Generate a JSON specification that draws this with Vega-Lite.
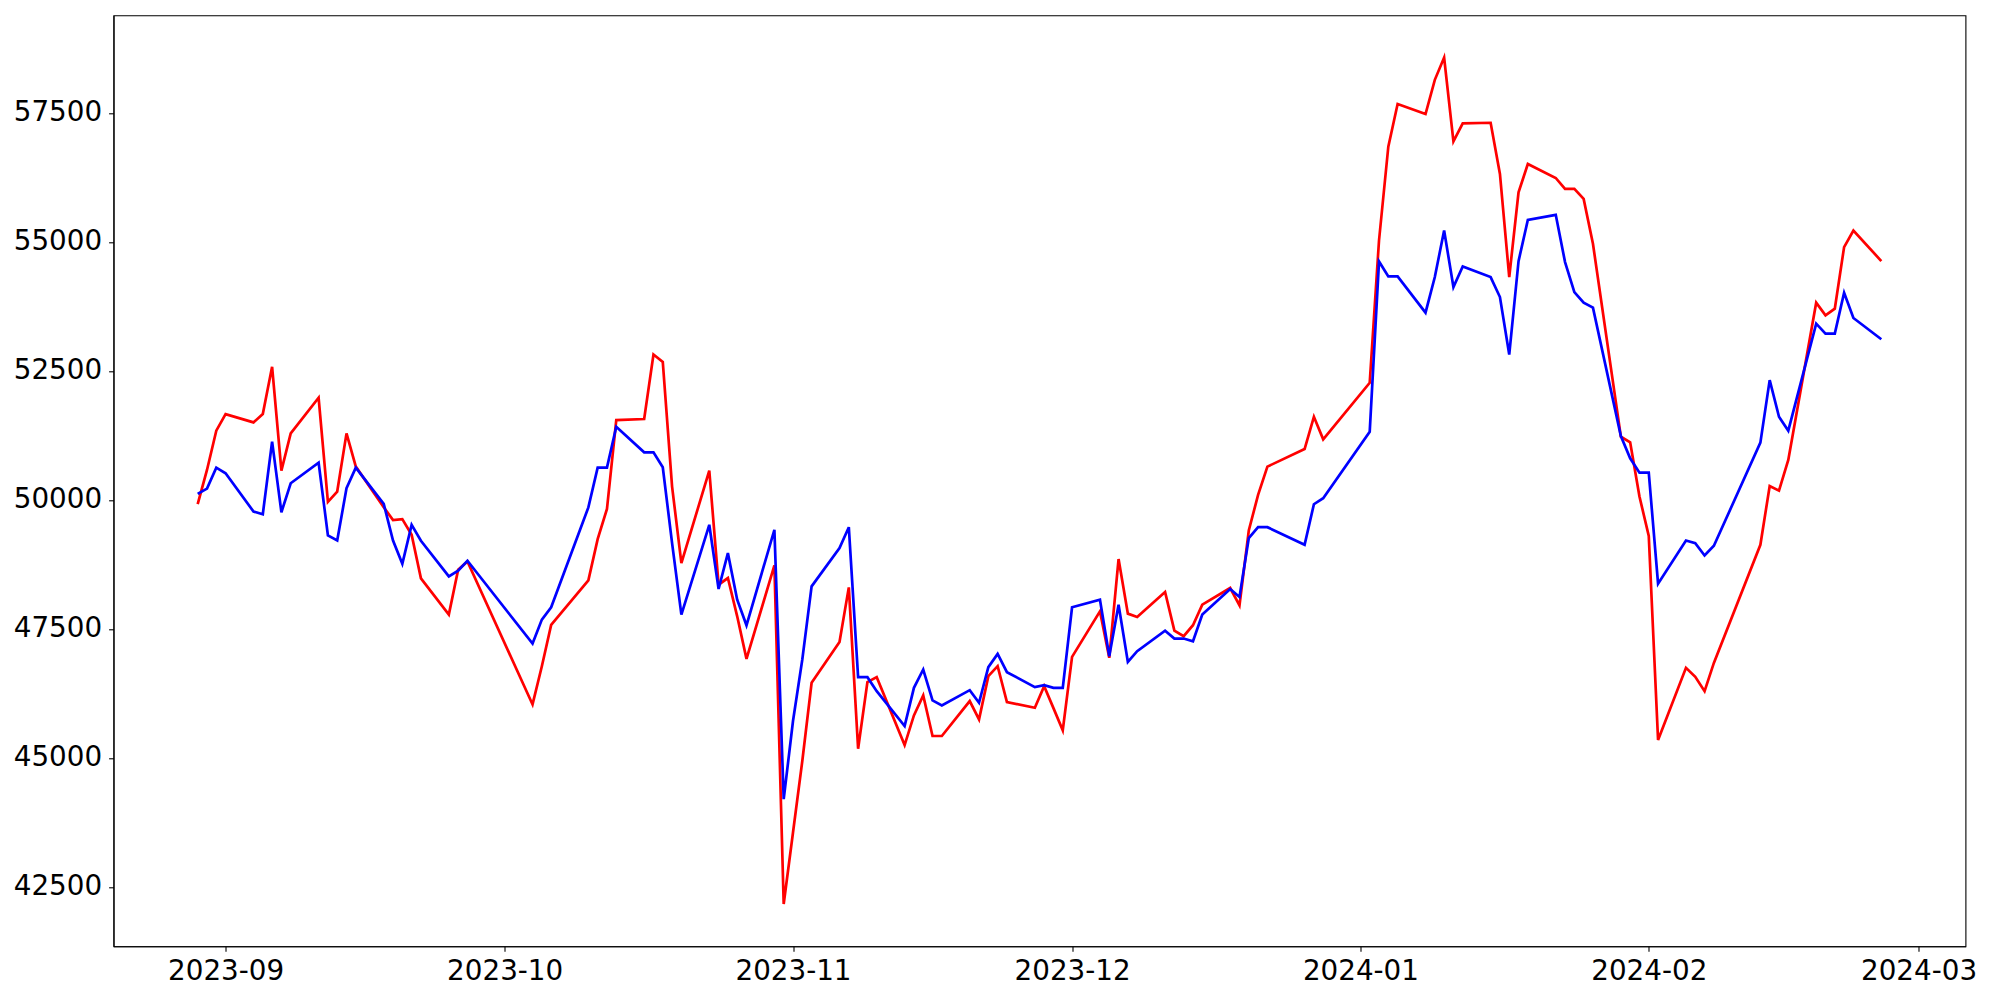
{
  "$schema": "https://vega.github.io/schema/vega-lite/v6.json",
  "width": 1852,
  "height": 931,
  "autosize": {"type": "none"},
  "padding": {"left": 113.5, "top": 15.3, "right": 34.5, "bottom": 53.6},
  "background": "white",
  "config": {
    "view": {"stroke": "black", "strokeWidth": 1.1, "fill": "white"},
    "axis": {
      "labelFont": "DejaVu Sans",
      "labelFontSize": 27.8,
      "labelColor": "black",
      "tickColor": "black",
      "tickSize": 4.9,
      "tickWidth": 1.1,
      "domainColor": "black",
      "domainWidth": 1.1,
      "grid": false,
      "labelPadding": 6,
      "labelFlush": false,
      "labelOverlap": false
    }
  },
  "data": {
    "values": [
      {"date": "2023-08-29", "red": 49916, "blue": 50116},
      {"date": "2023-08-30", "red": 50580, "blue": 50219},
      {"date": "2023-08-31", "red": 51341, "blue": 50625},
      {"date": "2023-09-01", "red": 51663, "blue": 50516},
      {"date": "2023-09-04", "red": 51502, "blue": 49774},
      {"date": "2023-09-05", "red": 51663, "blue": 49723},
      {"date": "2023-09-06", "red": 52579, "blue": 51128},
      {"date": "2023-09-07", "red": 50567, "blue": 49761},
      {"date": "2023-09-08", "red": 51289, "blue": 50322},
      {"date": "2023-09-11", "red": 51979, "blue": 50722},
      {"date": "2023-09-12", "red": 49961, "blue": 49310},
      {"date": "2023-09-13", "red": 50161, "blue": 49213},
      {"date": "2023-09-14", "red": 51289, "blue": 50226},
      {"date": "2023-09-15", "red": 50645, "blue": 50625},
      {"date": "2023-09-18", "red": 49858, "blue": 49923},
      {"date": "2023-09-19", "red": 49607, "blue": 49213},
      {"date": "2023-09-20", "red": 49626, "blue": 48762},
      {"date": "2023-09-21", "red": 49323, "blue": 49516},
      {"date": "2023-09-22", "red": 48479, "blue": 49207},
      {"date": "2023-09-25", "red": 47776, "blue": 48517},
      {"date": "2023-09-26", "red": 48646, "blue": 48627},
      {"date": "2023-09-27", "red": 48807, "blue": 48820},
      {"date": "2023-10-04", "red": 46035, "blue": 47215},
      {"date": "2023-10-05", "red": 46776, "blue": 47679},
      {"date": "2023-10-06", "red": 47576, "blue": 47918},
      {"date": "2023-10-10", "red": 48440, "blue": 49854},
      {"date": "2023-10-11", "red": 49239, "blue": 50625},
      {"date": "2023-10-12", "red": 49826, "blue": 50625},
      {"date": "2023-10-13", "red": 51547, "blue": 51418},
      {"date": "2023-10-16", "red": 51567, "blue": 50922},
      {"date": "2023-10-17", "red": 52817, "blue": 50922},
      {"date": "2023-10-18", "red": 52675, "blue": 50632},
      {"date": "2023-10-19", "red": 50258, "blue": 49162},
      {"date": "2023-10-20", "red": 48775, "blue": 47776},
      {"date": "2023-10-23", "red": 50567, "blue": 49517},
      {"date": "2023-10-24", "red": 48356, "blue": 48272},
      {"date": "2023-10-25", "red": 48485, "blue": 48968},
      {"date": "2023-10-26", "red": 47743, "blue": 48066},
      {"date": "2023-10-27", "red": 46918, "blue": 47569},
      {"date": "2023-10-30", "red": 48730, "blue": 49420},
      {"date": "2023-10-31", "red": 42167, "blue": 44198},
      {"date": "2023-11-01", "red": 43553, "blue": 45713},
      {"date": "2023-11-02", "red": 44939, "blue": 46906},
      {"date": "2023-11-03", "red": 46454, "blue": 48324},
      {"date": "2023-11-06", "red": 47247, "blue": 49065},
      {"date": "2023-11-07", "red": 48304, "blue": 49471},
      {"date": "2023-11-08", "red": 45177, "blue": 46564},
      {"date": "2023-11-09", "red": 46467, "blue": 46564},
      {"date": "2023-11-10", "red": 46564, "blue": 46293},
      {"date": "2023-11-13", "red": 45248, "blue": 45616},
      {"date": "2023-11-14", "red": 45822, "blue": 46357},
      {"date": "2023-11-15", "red": 46209, "blue": 46712},
      {"date": "2023-11-16", "red": 45423, "blue": 46113},
      {"date": "2023-11-17", "red": 45423, "blue": 46016},
      {"date": "2023-11-20", "red": 46100, "blue": 46312},
      {"date": "2023-11-21", "red": 45745, "blue": 46067},
      {"date": "2023-11-22", "red": 46583, "blue": 46757},
      {"date": "2023-11-23", "red": 46777, "blue": 47015},
      {"date": "2023-11-24", "red": 46080, "blue": 46661},
      {"date": "2023-11-27", "red": 45971, "blue": 46370},
      {"date": "2023-11-28", "red": 46390, "blue": 46409},
      {"date": "2023-11-29", "red": 45964, "blue": 46357},
      {"date": "2023-11-30", "red": 45532, "blue": 46357},
      {"date": "2023-12-01", "red": 46957, "blue": 47918},
      {"date": "2023-12-04", "red": 47840, "blue": 48066},
      {"date": "2023-12-05", "red": 46938, "blue": 46970},
      {"date": "2023-12-06", "red": 48853, "blue": 47969},
      {"date": "2023-12-07", "red": 47795, "blue": 46860},
      {"date": "2023-12-08", "red": 47731, "blue": 47067},
      {"date": "2023-12-11", "red": 48214, "blue": 47466},
      {"date": "2023-12-12", "red": 47466, "blue": 47312},
      {"date": "2023-12-13", "red": 47357, "blue": 47312},
      {"date": "2023-12-14", "red": 47570, "blue": 47260},
      {"date": "2023-12-15", "red": 47969, "blue": 47776},
      {"date": "2023-12-18", "red": 48292, "blue": 48272},
      {"date": "2023-12-19", "red": 47956, "blue": 48118},
      {"date": "2023-12-20", "red": 49407, "blue": 49259},
      {"date": "2023-12-21", "red": 50097, "blue": 49471},
      {"date": "2023-12-22", "red": 50645, "blue": 49471},
      {"date": "2023-12-26", "red": 50986, "blue": 49129},
      {"date": "2023-12-27", "red": 51611, "blue": 49916},
      {"date": "2023-12-28", "red": 51173, "blue": 50032},
      {"date": "2024-01-02", "red": 52269, "blue": 51321},
      {"date": "2024-01-03", "red": 55028, "blue": 54622},
      {"date": "2024-01-04", "red": 56846, "blue": 54332},
      {"date": "2024-01-05", "red": 57672, "blue": 54332},
      {"date": "2024-01-08", "red": 57478, "blue": 53629},
      {"date": "2024-01-09", "red": 58142, "blue": 54319},
      {"date": "2024-01-10", "red": 58573, "blue": 55222},
      {"date": "2024-01-11", "red": 56950, "blue": 54126},
      {"date": "2024-01-12", "red": 57298, "blue": 54525},
      {"date": "2024-01-15", "red": 57310, "blue": 54319},
      {"date": "2024-01-16", "red": 56318, "blue": 53932},
      {"date": "2024-01-17", "red": 54319, "blue": 52817},
      {"date": "2024-01-18", "red": 55963, "blue": 54628},
      {"date": "2024-01-19", "red": 56511, "blue": 55428},
      {"date": "2024-01-22", "red": 56240, "blue": 55525},
      {"date": "2024-01-23", "red": 56028, "blue": 54609},
      {"date": "2024-01-24", "red": 56028, "blue": 54029},
      {"date": "2024-01-25", "red": 55834, "blue": 53823},
      {"date": "2024-01-26", "red": 54964, "blue": 53726},
      {"date": "2024-01-29", "red": 51224, "blue": 51237},
      {"date": "2024-01-30", "red": 51115, "blue": 50806},
      {"date": "2024-01-31", "red": 50064, "blue": 50528},
      {"date": "2024-02-01", "red": 49303, "blue": 50528},
      {"date": "2024-02-02", "red": 45345, "blue": 48375},
      {"date": "2024-02-05", "red": 46744, "blue": 49213},
      {"date": "2024-02-06", "red": 46570, "blue": 49162},
      {"date": "2024-02-07", "red": 46293, "blue": 48923},
      {"date": "2024-02-08", "red": 46840, "blue": 49110},
      {"date": "2024-02-13", "red": 49129, "blue": 51109},
      {"date": "2024-02-14", "red": 50270, "blue": 52321},
      {"date": "2024-02-15", "red": 50180, "blue": 51611},
      {"date": "2024-02-16", "red": 50773, "blue": 51341},
      {"date": "2024-02-19", "red": 53823, "blue": 53417},
      {"date": "2024-02-20", "red": 53578, "blue": 53223},
      {"date": "2024-02-21", "red": 53707, "blue": 53223},
      {"date": "2024-02-22", "red": 54900, "blue": 54016},
      {"date": "2024-02-23", "red": 55222, "blue": 53526},
      {"date": "2024-02-26", "red": 54629, "blue": 53114}
    ]
  },
  "encoding": {
    "x": {
      "field": "date",
      "type": "temporal",
      "title": null,
      "scale": {"type": "utc", "domain": [1692485280000, 1709687520000], "nice": false},
      "axis": {
        "format": "%Y-%m",
        "values": [
          {"year": 2023, "month": 9, "date": 1, "utc": true},
          {"year": 2023, "month": 10, "date": 1, "utc": true},
          {"year": 2023, "month": 11, "date": 1, "utc": true},
          {"year": 2023, "month": 12, "date": 1, "utc": true},
          {"year": 2024, "month": 1, "date": 1, "utc": true},
          {"year": 2024, "month": 2, "date": 1, "utc": true},
          {"year": 2024, "month": 3, "date": 1, "utc": true}
        ]
      }
    }
  },
  "layer": [
    {
      "mark": {"type": "line", "color": "#ff0000", "strokeWidth": 2.7},
      "encoding": {
        "y": {
          "field": "red",
          "type": "quantitative",
          "title": null,
          "scale": {"domain": [41347, 59393], "nice": false, "zero": false},
          "axis": {"values": [42500, 45000, 47500, 50000, 52500, 55000, 57500], "format": "d", "labelPadding": 7}
        }
      }
    },
    {
      "mark": {"type": "line", "color": "#0000ff", "strokeWidth": 2.7},
      "encoding": {
        "y": {
          "field": "blue",
          "type": "quantitative",
          "title": null,
          "scale": {"domain": [41347, 59393], "nice": false, "zero": false},
          "axis": {"values": [42500, 45000, 47500, 50000, 52500, 55000, 57500], "format": "d", "labelPadding": 7}
        }
      }
    }
  ]
}
